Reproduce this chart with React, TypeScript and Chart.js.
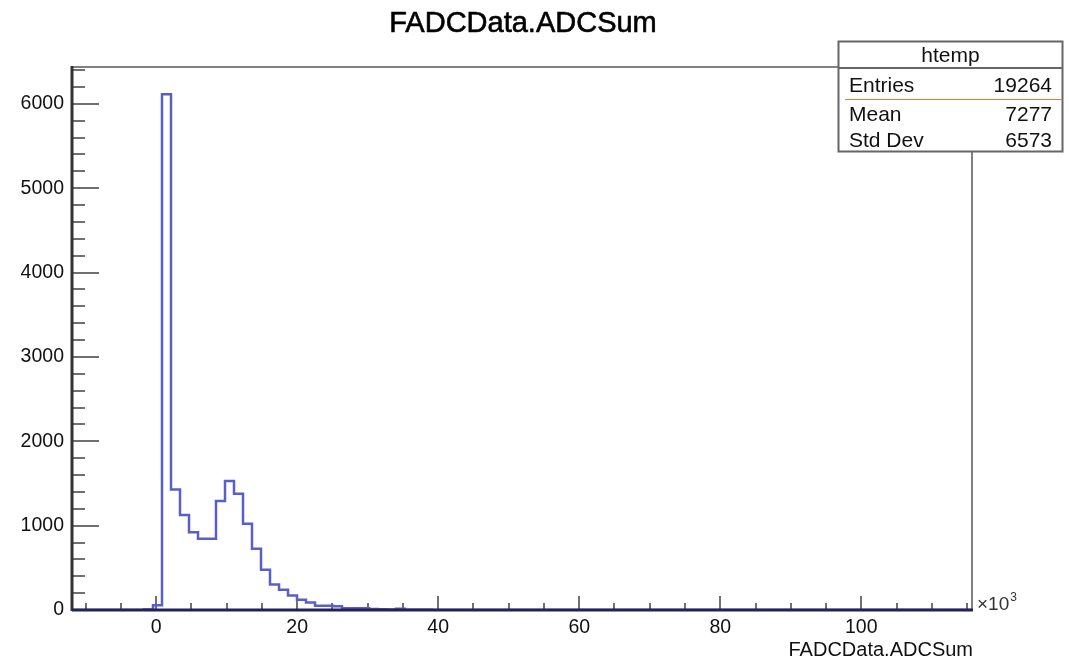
import React, { useEffect, useRef } from 'react';
import { Chart, registerables } from 'chart.js';

Chart.register(...registerables);

// ---- data ----
const chartTitle = 'FADCData.ADCSum';
const xAxisTitle = 'FADCData.ADCSum';
const xAxisMin = -11.93; // x10^3
const xAxisMax = 115.7;
const yAxisMax = 6437;
const xLabelStep = 20;
const xMinorStep = 5;
const yLabelStep = 1000;
const yMinorStep = 200;

// 100 bins
const binCounts = [
  0, 0, 0, 0, 0, 0, 0, 0, 5, 55,
  6115, 1429, 1125, 923, 844, 844, 1291, 1528, 1378, 1022,
  725, 476, 302, 239, 172, 121, 89, 49, 49, 43,
  22, 22, 22, 12, 8, 6, 15, 4, 3, 2,
  1, 1, 0, 0, 0, 0, 0, 0, 0, 0,
  0, 0, 0, 0, 0, 0, 0, 0, 0, 0,
  0, 0, 0, 0, 0, 0, 0, 0, 0, 0,
  0, 0, 0, 0, 0, 0, 0, 0, 0, 0,
  0, 0, 0, 0, 0, 0, 0, 0, 0, 0,
  0, 0, 0, 0, 0, 0, 0, 0, 0, 0,
];

const statsTitle = 'htemp';
const statsNames = ['Entries', 'Mean', 'Std Dev'];
const statsValues = ['19264', '7277', '6573'];

const FONT = '"Liberation Sans", Arial, Helvetica, sans-serif';
const HIST_COLOR = '#5a5fc8';

function stepTicks(lo: number, hi: number, step: number) {
  const out: { value: number }[] = [];
  const start = Math.ceil(lo / step - 1e-9);
  const end = Math.floor(hi / step + 1e-9);
  for (let k = start; k <= end; k++) out.push({ value: k * step });
  return out;
}

const isMultiple = (v: number, step: number) => Math.abs(v / step - Math.round(v / step)) < 1e-6;

const rootPlugin = {
  id: 'rootStyle',
  beforeDatasetsDraw(chart: any) {
    const ctx = chart.ctx;
    const xs = chart.scales.x;
    const ys = chart.scales.y;
    const a = chart.chartArea;
    ctx.save();
    ctx.strokeStyle = '#707070';
    ctx.lineWidth = 2;
    xs.ticks.forEach((t: any) => {
      const px = Math.round(xs.getPixelForValue(t.value));
      const len = isMultiple(t.value, xLabelStep) ? 14 : 7;
      ctx.beginPath();
      ctx.moveTo(px, a.bottom);
      ctx.lineTo(px, a.bottom - len);
      ctx.stroke();
    });
    ys.ticks.forEach((t: any) => {
      const py = Math.round(ys.getPixelForValue(t.value));
      const len = isMultiple(t.value, yLabelStep) ? 27 : 13;
      ctx.beginPath();
      ctx.moveTo(a.left, py);
      ctx.lineTo(a.left + len, py);
      ctx.stroke();
    });
    ctx.strokeStyle = '#808080';
    ctx.lineWidth = 2;
    ctx.beginPath();
    ctx.moveTo(a.left, a.top);
    ctx.lineTo(a.right, a.top);
    ctx.lineTo(a.right, a.bottom);
    ctx.stroke();
    ctx.restore();
  },
  afterDatasetsDraw(chart: any) {
    const ctx = chart.ctx;
    const a = chart.chartArea;
    ctx.save();
    ctx.strokeStyle = '#333333';
    ctx.lineWidth = 3;
    ctx.beginPath();
    ctx.moveTo(a.left, a.top - 1);
    ctx.lineTo(a.left, a.bottom + 1);
    ctx.stroke();
    ctx.strokeStyle = '#22225a';
    ctx.lineWidth = 3;
    ctx.beginPath();
    ctx.moveTo(a.left, a.bottom);
    ctx.lineTo(a.right + 1, a.bottom);
    ctx.stroke();
    ctx.restore();
  },
  afterDraw(chart: any) {
    const ctx = chart.ctx;
    const a = chart.chartArea;
    ctx.save();
    ctx.fillStyle = '#000';
    ctx.textBaseline = 'alphabetic';
    ctx.font = `29px ${FONT}`;
    ctx.textAlign = 'center';
    ctx.fillText(chartTitle, 523, 32);
    ctx.lineWidth = 0.6;
    ctx.strokeStyle = '#000';
    ctx.strokeText(chartTitle, 523, 32);
    ctx.fillStyle = '#111';
    ctx.font = `20px ${FONT}`;
    ctx.textAlign = 'right';
    ctx.fillText(xAxisTitle, a.right + 1, 656);
    // x10^3
    ctx.textAlign = 'left';
    ctx.font = `19px ${FONT}`;
    ctx.fillStyle = '#333';
    ctx.fillText('\u00d710', a.right + 5, 610);
    const w = ctx.measureText('\u00d710').width;
    ctx.font = `12px ${FONT}`;
    ctx.fillText('3', a.right + 5 + w + 1, 601);

    // stats box
    const bx = 838.5, by = 41.5, bw = 224, bh = 110;
    ctx.fillStyle = '#ffffff';
    ctx.fillRect(bx, by, bw, bh);
    ctx.strokeStyle = '#666666';
    ctx.lineWidth = 2;
    ctx.strokeRect(bx, by, bw, bh);
    ctx.beginPath();
    ctx.moveTo(bx, 68);
    ctx.lineTo(bx + bw, 68);
    ctx.stroke();
    ctx.strokeStyle = '#e8782a';
    ctx.lineWidth = 1;
    ctx.beginPath();
    ctx.moveTo(845, 99.5);
    ctx.lineTo(bx + bw, 99.5);
    ctx.stroke();
    ctx.fillStyle = '#111';
    ctx.font = `21px ${FONT}`;
    ctx.textAlign = 'center';
    ctx.fillText(statsTitle, bx + bw / 2, 62);
    const rowBase = [92, 121, 147];
    statsNames.forEach((n, i) => {
      ctx.textAlign = 'left';
      ctx.fillText(n, 849, rowBase[i]);
      ctx.textAlign = 'right';
      ctx.fillText(statsValues[i], 1052, rowBase[i]);
    });
    ctx.restore();
  },
};

export default function App() {
  const ref = useRef<HTMLCanvasElement | null>(null);
  useEffect(() => {
    document.body.style.margin = '0';
    const canvas = ref.current;
    if (!canvas) return;
    const binWidth = (xAxisMax - xAxisMin) / binCounts.length;
    const pts = binCounts.map((v, k) => ({ x: xAxisMin + k * binWidth, y: v }));
    pts.push({ x: xAxisMax, y: binCounts[binCounts.length - 1] });

    const chart = new Chart(canvas, {
      type: 'line',
      data: {
        datasets: [
          {
            data: pts,
            stepped: 'before',
            borderColor: HIST_COLOR,
            borderWidth: 2.5,
            pointRadius: 0,
            fill: false,
            tension: 0,
          } as any,
        ],
      },
      options: {
        animation: false,
        responsive: false,
        devicePixelRatio: 1,
        parsing: false as any,
        layout: { padding: { left: 0, top: 67, right: 97, bottom: 0 } },
        plugins: {
          legend: { display: false },
          tooltip: { enabled: false },
          title: { display: false },
        },
        scales: {
          x: {
            type: 'linear',
            min: xAxisMin,
            max: xAxisMax,
            grid: { display: false, drawTicks: false },
            border: { display: false },
            afterFit: (s: any) => { s.height = 51; },
            afterBuildTicks: (s: any) => { s.ticks = stepTicks(xAxisMin, xAxisMax, xMinorStep); },
            ticks: {
              autoSkip: false,
              maxRotation: 0,
              padding: 6,
              color: '#111',
              font: { family: FONT, size: 19.5 },
              callback: (v: any) => (isMultiple(Number(v), xLabelStep) ? String(Math.round(Number(v))) : ''),
            },
          },
          y: {
            type: 'linear',
            min: 0,
            max: yAxisMax,
            grid: { display: false, drawTicks: false },
            border: { display: false },
            afterFit: (s: any) => { s.width = 72; },
            afterBuildTicks: (s: any) => { s.ticks = stepTicks(0, yAxisMax, yMinorStep); },
            ticks: {
              autoSkip: false,
              padding: 8,
              color: '#111',
              font: { family: FONT, size: 19.5 },
              callback: (v: any) => (isMultiple(Number(v), yLabelStep) ? String(Math.round(Number(v))) : ''),
            },
          },
        },
      },
      plugins: [rootPlugin],
    });
    return () => chart.destroy();
  }, []);
  return (
    <div style={{ width: 1069, height: 661 }}>
      <canvas ref={ref} width={1069} height={661} style={{ display: 'block' }} />
    </div>
  );
}
